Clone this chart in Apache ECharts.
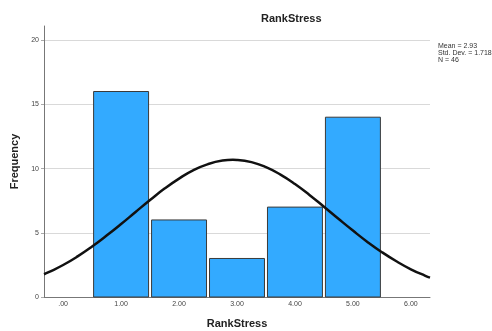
<!DOCTYPE html>
<html>
<head>
<meta charset="utf-8">
<script src="https://cdn.jsdelivr.net/npm/echarts@6/dist/echarts.min.js"></script>
<style>
  html, body { margin: 0; padding: 0; background: #fff; overflow: hidden; }
  #chart { width: 492px; height: 331px; }
</style>
</head>
<body>
<div id="chart"></div>
<script>
// Histogram bins (bin centre) and counts
const binCenters = [1, 2, 3, 4, 5];
const frequencies = [16, 6, 3, 7, 14];

// Fitted normal curve, sampled along the x range
const curveX = [-0.33, -0.25, 0, 0.25, 0.5, 0.75, 1, 1.25, 1.5, 1.75, 2, 2.25, 2.5, 2.75, 2.93, 3, 3.25, 3.5, 3.75, 4, 4.25, 4.5, 4.75, 5, 5.25, 5.5, 5.75, 6, 6.25, 6.33];
const curveY = [1.77, 1.93, 2.49, 3.16, 3.93, 4.78, 5.68, 6.62, 7.55, 8.44, 9.22, 9.88, 10.35, 10.62, 10.68, 10.67, 10.50, 10.11, 9.53, 8.80, 7.95, 7.03, 6.09, 5.17, 4.29, 3.49, 2.78, 2.16, 1.65, 1.51];

// Axis ticks and labels
const xTickValues = [0, 1, 2, 3, 4, 5, 6];
const xTickLabels = ['.00', '1.00', '2.00', '3.00', '4.00', '5.00', '6.00'];
const yTickValues = [0, 5, 10, 15, 20];

// Summary statistics
const statLines = ['Mean = 2.93', 'Std. Dev. = 1.718', 'N = 46'];

const FONT = '"Liberation Sans", Arial, sans-serif';

const chart = echarts.init(document.getElementById('chart'), null, { renderer: 'canvas' });

const barData = binCenters.map((c, i) => [c, frequencies[i]]);
const curveData = curveX.map((x, i) => [x, curveY[i]]);

chart.setOption({
  animation: false,
  backgroundColor: '#ffffff',
  title: [
    {
      text: 'RankStress',
      left: 256, top: 8,
      textStyle: { fontFamily: FONT, fontSize: 11, fontWeight: 'bold', color: '#222' }
    },
    {
      text: statLines.join('\n'),
      left: 433, top: 38,
      textStyle: { fontFamily: FONT, fontSize: 7, fontWeight: 'normal', color: '#333', lineHeight: 7 }
    }
  ],
  // fixed plot rectangle; labels and names sit outside it
  grid: { left: 44, right: 62, top: 26, bottom: 34, containLabel: false, outerBoundsMode: 'none' },
  xAxis: {
    type: 'value',
    min: -0.33, max: 6.33,
    name: 'RankStress',
    nameLocation: 'middle',
    nameGap: 21,
    nameTextStyle: { fontFamily: FONT, fontSize: 11, fontWeight: 'bold', color: '#222' },
    axisLine: { show: true, onZero: false, lineStyle: { color: '#777', width: 1 } },
    axisTick: { show: false },
    splitLine: { show: false },
    axisLabel: {
      customValues: xTickValues,
      formatter: (v) => xTickLabels[xTickValues.indexOf(Math.round(v))] || '',
      fontFamily: FONT, fontSize: 7, color: '#444', margin: 4
    }
  },
  yAxis: {
    type: 'value',
    min: 0, max: 21.1,
    name: 'Frequency',
    nameLocation: 'middle',
    nameGap: 12,
    nameRotate: 90,
    nameTextStyle: { fontFamily: FONT, fontSize: 11, fontWeight: 'bold', color: '#222' },
    axisLine: { show: true, onZero: false, lineStyle: { color: '#777', width: 1 } },
    axisTick: { show: true, length: 3, customValues: yTickValues, lineStyle: { color: '#aaa' } },
    splitLine: { show: true, lineStyle: { color: '#d9d9d9', width: 1 } },
    axisLabel: {
      customValues: yTickValues,
      fontFamily: FONT, fontSize: 7, color: '#444', margin: 5
    }
  },
  series: [
    {
      type: 'custom',
      data: barData,
      encode: { x: 0, y: 1 },
      renderItem: function (params, api) {
        const c = api.value(0);
        const v = api.value(1);
        const p0 = api.coord([c - 0.5, 0]);
        const p1 = api.coord([c + 0.5, v]);
        const inset = 1.5;
        return {
          type: 'rect',
          shape: { x: p0[0] + inset, y: p1[1], width: p1[0] - p0[0] - 2 * inset, height: p0[1] - p1[1] },
          style: { fill: '#33aaff', stroke: '#3a3a3a', lineWidth: 1 }
        };
      },
      z: 2
    },
    {
      type: 'line',
      data: curveData,
      smooth: true,
      showSymbol: false,
      lineStyle: { color: '#111', width: 2.5 },
      z: 3
    }
  ]
});
</script>
</body>
</html>
